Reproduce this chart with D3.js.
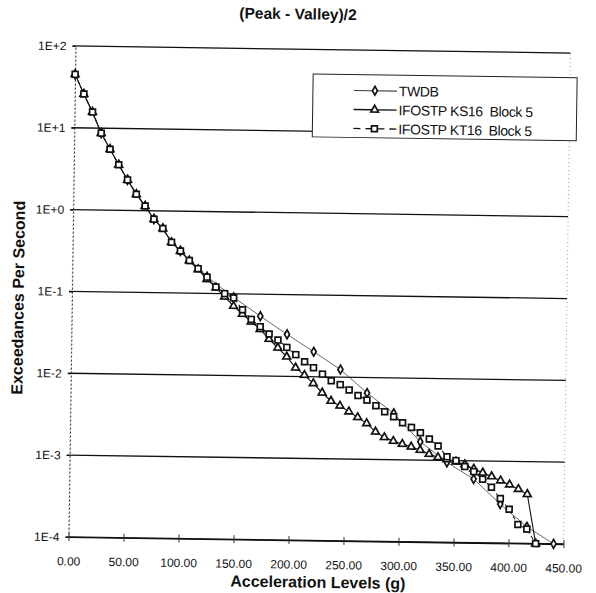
<!DOCTYPE html>
<html><head><meta charset="utf-8">
<script src="https://cdn.jsdelivr.net/npm/d3@7/dist/d3.min.js"></script>
<style>
html,body{margin:0;padding:0;background:#fff;}
svg{display:block;font-family:"Liberation Sans",Arial,Helvetica,sans-serif;}
</style></head><body>
<svg id="chart" width="596" height="593"></svg>
<script>
// Acceleration levels (g) for the IFOSTP block data
const accelLevels = [0, 8.2, 16.3, 24.5, 32.7, 40.8, 49, 57.2, 65.3, 73.5, 81.7, 89.8, 98, 106.2,
  114.3, 122.5, 130.7, 138.8, 147, 155.2, 163.3, 171.5, 179.7, 187.8, 196, 204.2, 212.3, 220.5,
  228.7, 236.8, 245, 253.2, 261.3, 269.5, 277.7, 285.8, 294, 302.2, 310.3, 318.5, 326.7, 334.8,
  343, 351.2, 359.3, 367.5, 375.7, 383.8, 392, 400.2, 408.3, 416.5, 424.7];

// Exceedances per second, IFOSTP KS16 Block 5
const ks16 = [45, 26, 15.7, 8.7, 5.55, 3.6, 2.36, 1.58, 1.14, 0.79, 0.61, 0.415, 0.326, 0.25,
  0.195, 0.149, 0.118, 0.0916, 0.0708, 0.0568, 0.0458, 0.0372, 0.0284, 0.0223, 0.0174, 0.0128,
  0.01045, 0.0083, 0.0064, 0.0051, 0.00446, 0.0038, 0.00325, 0.00275, 0.00218, 0.00187, 0.00169,
  0.00156, 0.00145, 0.00133, 0.00119, 0.00109, 0.00103, 0.00097, 0.0009, 0.0008, 0.00072,
  0.00065, 0.00058, 0.00052, 0.00046, 0.0004, 0.0001];

// Exceedances per second, IFOSTP KT16 Block 5
const kt16 = [45, 26, 15.7, 8.7, 5.55, 3.6, 2.36, 1.58, 1.14, 0.79, 0.61, 0.415, 0.326, 0.25,
  0.2, 0.158, 0.12, 0.1, 0.089, 0.064, 0.049, 0.04, 0.0327, 0.0277, 0.0226, 0.0185, 0.0152,
  0.0129, 0.0108, 0.009, 0.0081, 0.007, 0.006, 0.0053, 0.00454, 0.00385, 0.00335, 0.00284,
  0.0025, 0.00216, 0.00182, 0.0015, 0.00111, 0.001, 0.00085, 0.00074, 0.0006, 0.00048,
  0.00035, 0.00026, 0.00017, 0.00015, 0.0001];

// TWDB reference spectrum
const twdbLevels = [0, 24.5, 49, 73.5, 98, 122.5, 147, 171.5, 196, 220.5, 245, 269.5, 294,
  318.5, 343, 367.5, 392, 416.5, 441];
const twdb = [45, 8.7, 2.36, 0.79, 0.326, 0.16, 0.0906, 0.0538, 0.0326, 0.0202, 0.0124,
  0.00647, 0.00369, 0.00168, 0.00095, 0.0006, 0.0003, 0.00016, 0.0001];

const xTicks = [0, 50, 100, 150, 200, 250, 300, 350, 400, 450];
const yTicks = [1e2, 1e1, 1e0, 1e-1, 1e-2, 1e-3, 1e-4];
const yTickLabels = ["1E+2", "1E+1", "1E+0", "1E-1", "1E-2", "1E-3", "1E-4"];
const seriesNames = ["TWDB", "IFOSTP KS16  Block 5", "IFOSTP KT16  Block 5"];

const L = 72, T = 49.5, W = 495, H = 491;
const x = d3.scaleLinear().domain([0, 450]).range([L, L + W]);
const y = d3.scaleLog().domain([1e-4, 1e2]).range([T + H, T]);

const svg = d3.select("#chart");
// the whole sheet sits slightly askew
const g = svg.append("g").attr("transform", "rotate(0.82 319.5 295)");

// plot frame (dotted)
g.append("rect").attr("x", L).attr("y", T).attr("width", W).attr("height", H)
  .attr("fill", "none").attr("stroke", "#888").attr("stroke-width", 0.8)
  .attr("stroke-dasharray", "1,3");

// major gridlines
g.append("g").selectAll("line").data(yTicks).join("line")
  .attr("x1", L - 3).attr("x2", L + W)
  .attr("y1", d => y(d)).attr("y2", d => y(d))
  .attr("stroke", "#111").attr("stroke-width", 1.3);

// y axis
const yAxis = g.append("g").attr("transform", `translate(${L},0)`)
  .call(d3.axisLeft(y).tickValues(yTicks).tickFormat((d, i) => yTickLabels[i])
    .tickSizeInner(3).tickSizeOuter(0).tickPadding(6));
yAxis.select(".domain").attr("stroke", "#333").attr("stroke-dasharray", "2,2").attr("stroke-width", 1);
yAxis.selectAll(".tick line").attr("stroke", "#111");
yAxis.selectAll("text").attr("font-size", 12).attr("fill", "#111");

// x axis
const xAxis = g.append("g").attr("transform", `translate(0,${T + H})`)
  .call(d3.axisBottom(x).tickValues(xTicks).tickFormat(d3.format(".2f"))
    .tickSizeInner(4).tickSizeOuter(0).tickPadding(16));
xAxis.select(".domain").attr("stroke", "#111").attr("stroke-width", 1.3);
xAxis.selectAll(".tick line").attr("y1", -4).attr("stroke", "#333");
xAxis.selectAll("text").attr("font-size", 12).attr("fill", "#111");

// series
const ksData = accelLevels.map((a, i) => [a, ks16[i]]);
const ktData = accelLevels.map((a, i) => [a, kt16[i]]);
const twData = twdbLevels.map((a, i) => [a, twdb[i]]);
const line = d3.line().x(d => x(d[0])).y(d => y(d[1]));

const series = [
  {name: seriesNames[0], data: twData, sym: d3.symbolDiamond, size: 22, stroke: "#444", width: 0.8, dash: null},
  {name: seriesNames[1], data: ksData, sym: d3.symbolTriangle, size: 26, stroke: "#111", width: 1.1, dash: null},
  {name: seriesNames[2], data: ktData, sym: d3.symbolSquare, size: 34, stroke: "#111", width: 1, dash: "4,3"}
];

series.forEach(s => {
  g.append("path").datum(s.data).attr("d", line).attr("fill", "none")
    .attr("stroke", s.stroke).attr("stroke-width", s.width)
    .attr("stroke-dasharray", s.dash);
});
series.forEach(s => {
  g.append("g").selectAll("path").data(s.data).join("path")
    .attr("transform", d => `translate(${x(d[0])},${y(d[1])})`)
    .attr("d", d3.symbol().type(s.sym).size(s.size))
    .attr("fill", "#fff").attr("stroke", "#111").attr("stroke-width", 1.7);
});

// legend
const lg = g.append("g");
lg.append("rect").attr("x", 310).attr("y", 74).attr("width", 264).attr("height", 63)
  .attr("fill", "#fff").attr("stroke", "#222").attr("stroke-width", 1);
series.forEach((s, i) => {
  const yy = 90 + i * 19;
  lg.append("line").attr("x1", 351).attr("x2", 394).attr("y1", yy).attr("y2", yy)
    .attr("stroke", s.stroke).attr("stroke-width", s.width + 0.3)
    .attr("stroke-dasharray", s.dash ? "7,5" : null);
  lg.append("path").attr("transform", `translate(372,${yy})`)
    .attr("d", d3.symbol().type(s.sym).size(s.size))
    .attr("fill", "#fff").attr("stroke", "#111").attr("stroke-width", 1.7);
  lg.append("text").attr("x", 396).attr("y", yy).attr("dy", "0.36em")
    .attr("font-size", 14).style("white-space", "pre").attr("fill", "#111")
    .attr("letter-spacing", -0.4).text(s.name);
});

// titles
g.append("text").attr("x", 294).attr("y", 14).attr("dy", "0.36em").attr("text-anchor", "middle")
  .attr("font-size", 15.5).attr("font-weight", "bold").attr("fill", "#111").text("(Peak - Valley)/2");
g.append("text").attr("transform", "translate(18,302) rotate(-90)").attr("dy", "0.36em")
  .attr("text-anchor", "middle").attr("font-size", 16).attr("font-weight", "bold").attr("fill", "#111")
  .text("Exceedances Per Second");
g.append("text").attr("x", 322).attr("y", 582).attr("dy", "0.36em").attr("text-anchor", "middle")
  .attr("font-size", 16).attr("font-weight", "bold").attr("fill", "#111").text("Acceleration Levels (g)");
</script>
</body></html>
